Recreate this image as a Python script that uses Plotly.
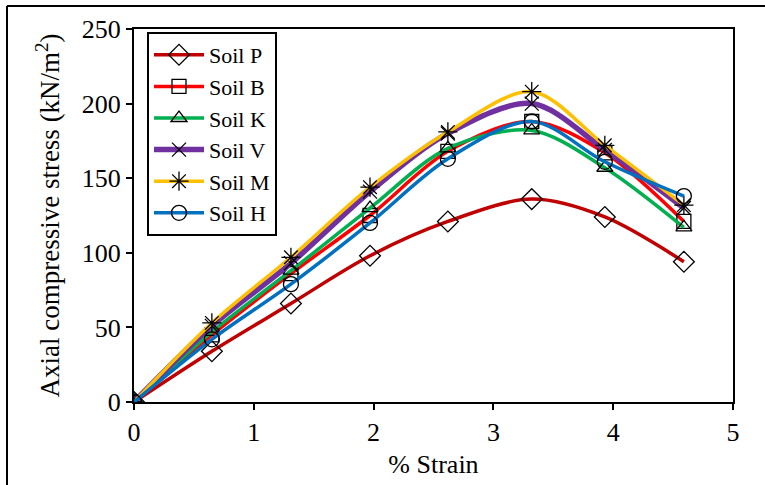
import plotly.graph_objects as go

# % strain at each reading
strain = [0, 0.65, 1.31, 1.97, 2.62, 3.32, 3.93, 4.59]

# Axial compressive stress (kN/m2) per soil
soil_p = [0, 34, 66, 98, 121, 136, 124, 94]
soil_b = [0, 45, 86, 125, 168, 188, 167, 121]
soil_k = [0, 47, 88, 130, 170, 182, 157, 117]
soil_v = [0, 51, 93, 141, 180, 200, 169, 130]
soil_m = [0, 53, 97, 144, 181, 208, 172, 132]
soil_h = [0, 42, 79, 120, 163, 188, 161, 138]

series = [
    ("Soil P", soil_p, "#C00000", "diamond-open", 3.5, 16),
    ("Soil B", soil_b, "#FF0000", "square-open", 3.5, 14),
    ("Soil K", soil_k, "#00B050", "triangle-up-open", 3.5, 14),
    ("Soil V", soil_v, "#7030A0", "x-thin-open", 5.5, 14),
    ("Soil M", soil_m, "#FFC000", "asterisk-open", 3.5, 16),
    ("Soil H", soil_h, "#0070C0", "circle-open", 3.5, 15),
]

fig = go.Figure()
for name, vals, color, sym, lw, ms in series:
    fig.add_trace(go.Scatter(
        x=strain, y=vals, name=name, mode="lines+markers",
        line=dict(color=color, width=lw, shape="spline", smoothing=0.9),
        marker=dict(symbol=sym, size=ms, color="black",
                    line=dict(color="black", width=1.3)),
    ))

W, H = 765, 485
ml, mr, mt, mb = 134, 32, 29, 83
pw, ph = W - ml - mr, H - mt - mb

font = "Liberation Serif, Times New Roman, serif"

fig.update_layout(
    width=W, height=H,
    margin=dict(l=ml, r=mr, t=mt, b=mb),
    paper_bgcolor="white", plot_bgcolor="white",
    font=dict(family=font, size=26, color="black"),
    showlegend=True,
    legend=dict(
        x=(147 - ml) / pw, y=1 - (32 - mt) / ph,
        xanchor="left", yanchor="top",
        bordercolor="black", borderwidth=2, bgcolor="white",
        font=dict(family=font, size=22),
        tracegroupgap=0, itemwidth=50,
    ),
    xaxis=dict(
        range=[0, 5], tickvals=[0, 1, 2, 3, 4, 5],
        tickfont=dict(family=font, size=26),
        showgrid=False, zeroline=False,
        showline=True, linecolor="black", linewidth=2, mirror=True,
        ticks="outside", ticklen=6, tickwidth=2, tickcolor="black",
        title=dict(text="% Strain", font=dict(family=font, size=26), standoff=9),
    ),
    yaxis=dict(
        range=[0, 250], tickvals=[0, 50, 100, 150, 200, 250],
        tickfont=dict(family=font, size=26),
        showgrid=False, zeroline=False,
        showline=True, linecolor="black", linewidth=2, mirror=True,
        ticks="outside", ticklen=6, tickwidth=2, tickcolor="black",
        title=dict(text="Axial compressive stress (kN/m<sup>2</sup>)",
                   font=dict(family=font, size=27), standoff=14),
    ),
)

# Frame lines along the top and left edge of the page
x_left = (7 - ml) / pw
y_top = 1 + (mt - 6) / ph
fig.add_shape(type="line", xref="paper", yref="paper",
              x0=x_left, x1=(W - ml) / pw, y0=y_top, y1=y_top,
              line=dict(color="black", width=2))
fig.add_shape(type="line", xref="paper", yref="paper",
              x0=x_left, x1=x_left, y0=y_top, y1=-(mb) / ph,
              line=dict(color="black", width=2))

fig.write_html("out.html")
